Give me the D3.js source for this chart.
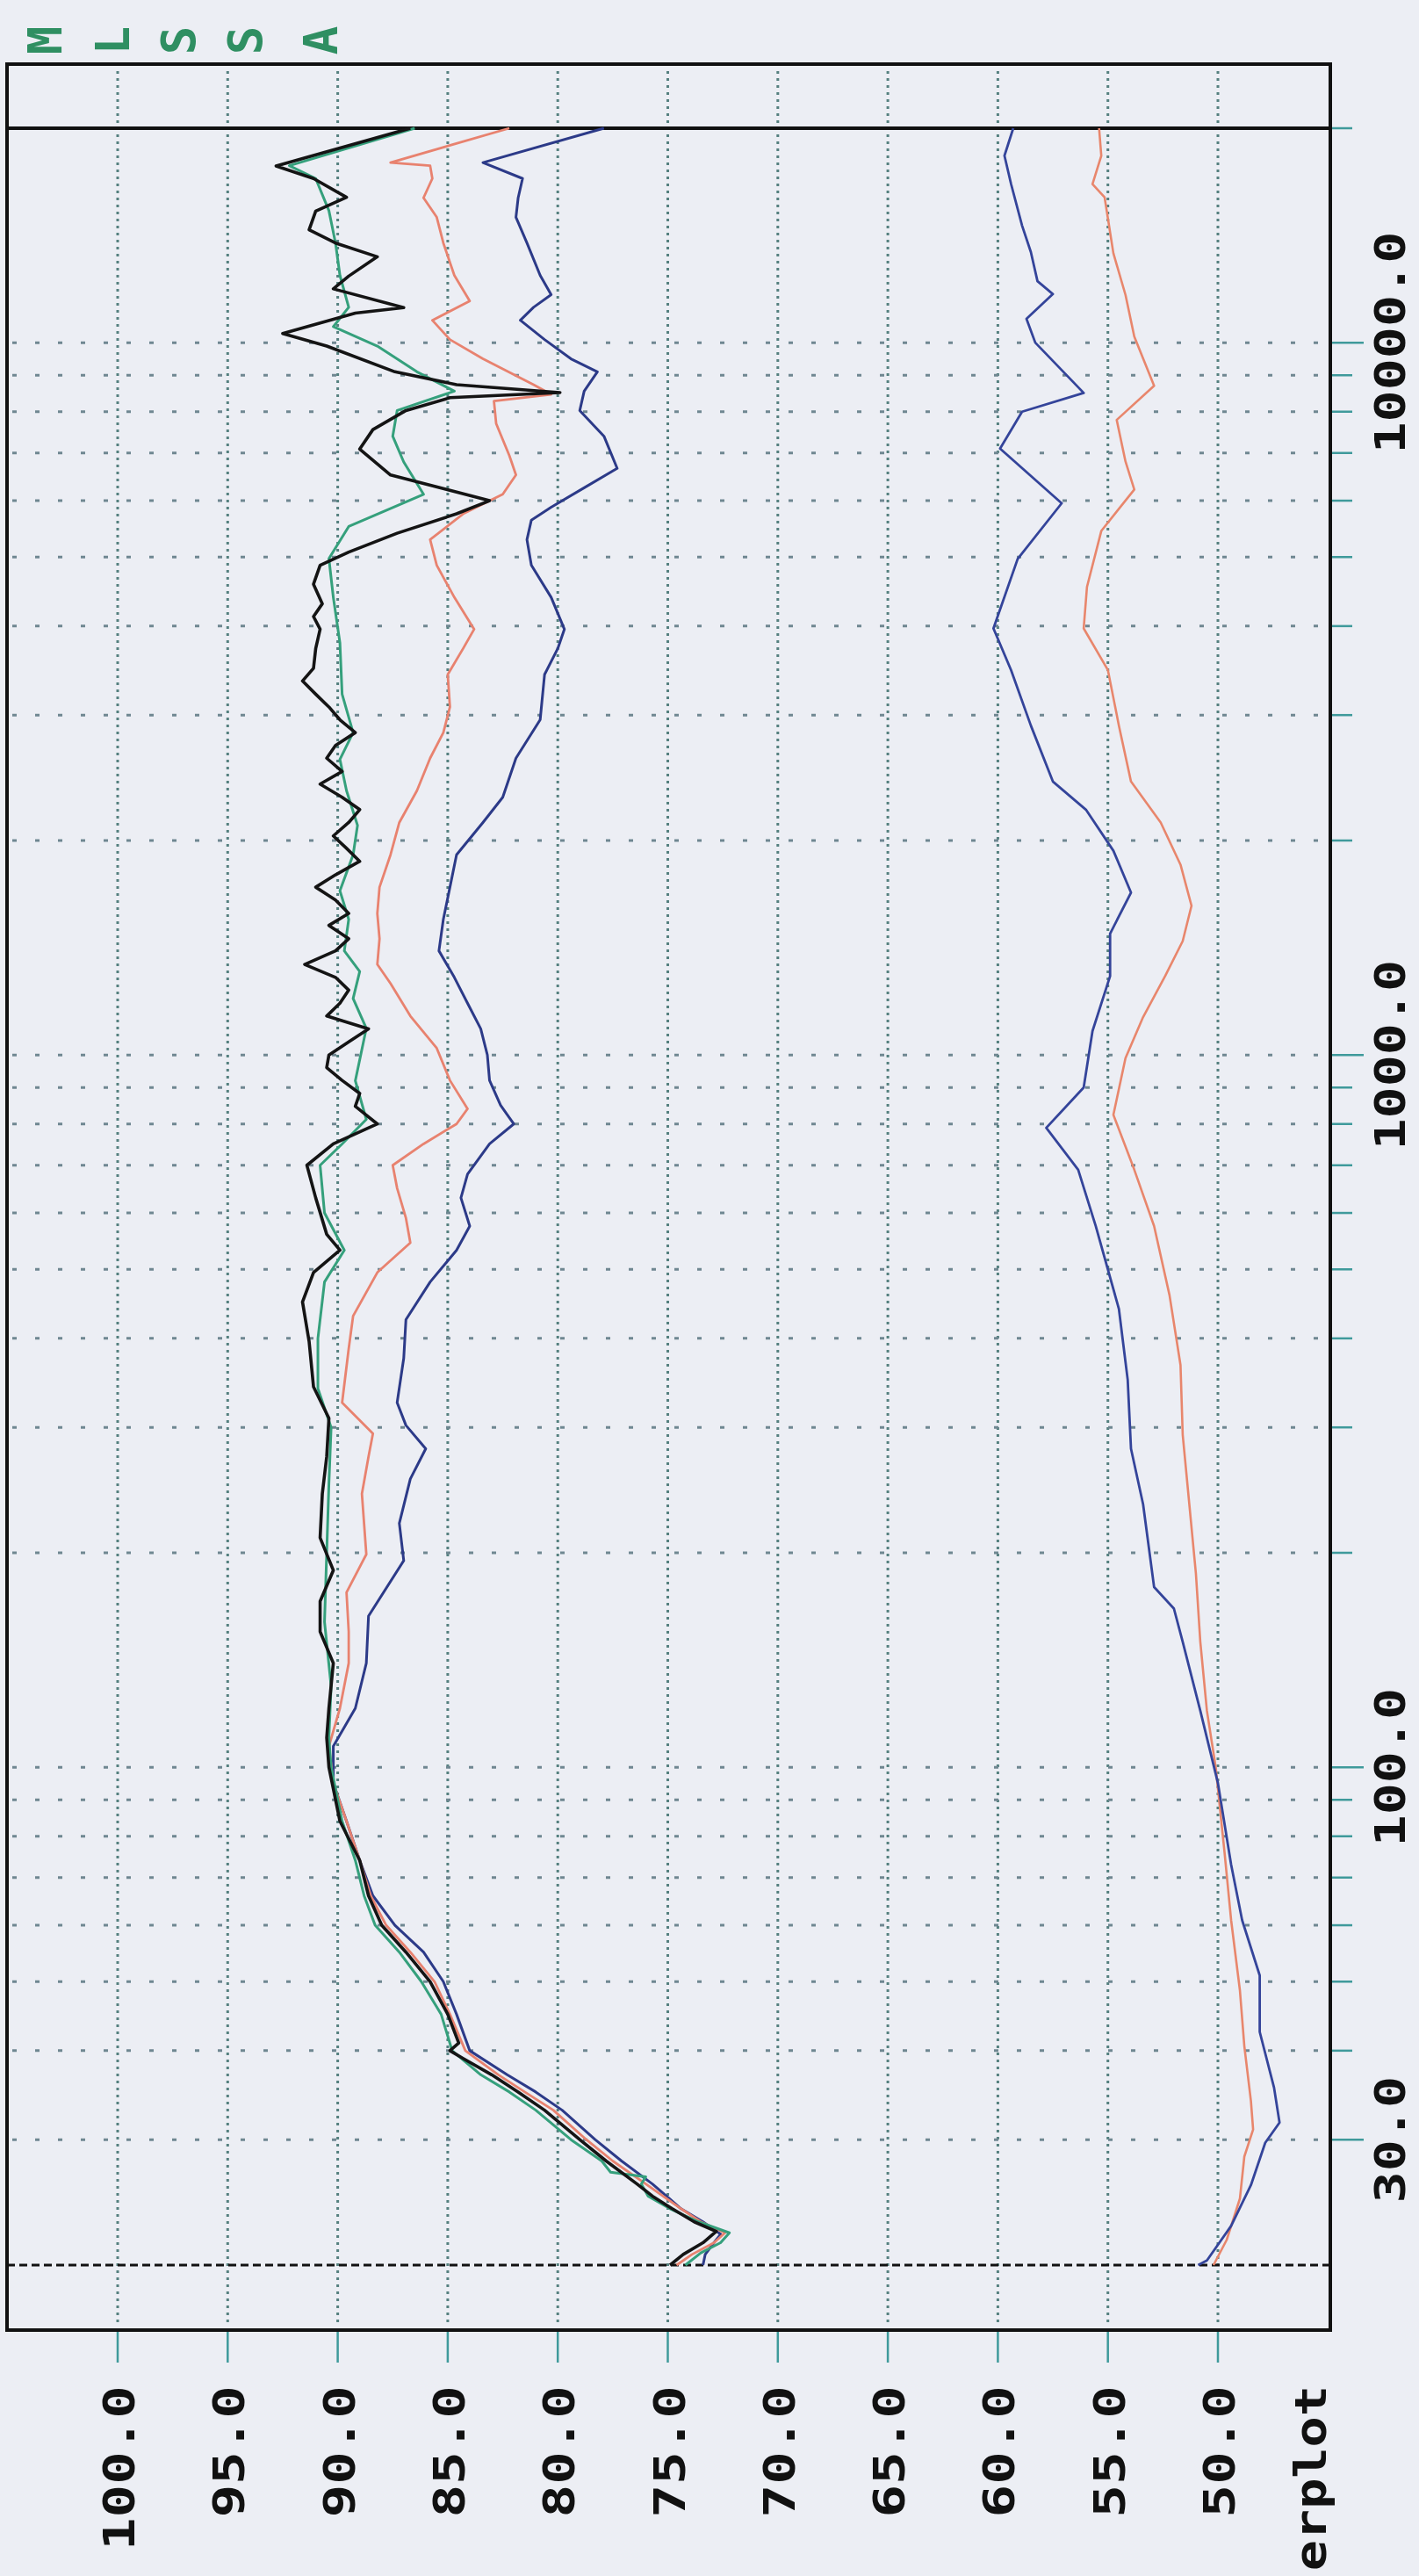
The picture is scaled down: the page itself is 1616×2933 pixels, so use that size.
<!DOCTYPE html>
<html><head><meta charset="utf-8">
<script src="https://cdn.jsdelivr.net/npm/d3@7"></script>
<style>html,body{margin:0;padding:0;background:#eceef4;}svg{display:block}</style>
</head><body>
<svg id="chart" width="1616" height="2933"></svg>
<script>
// ---------------- DATA ----------------
const dbTicks = [100, 95, 90, 85, 80, 75, 70, 65, 60, 55, 50];
const freqGrid = [30, 40, 50, 60, 70, 80, 90, 100, 200, 300, 400, 500, 600, 700, 800, 900,
                  1000, 2000, 3000, 4000, 5000, 6000, 7000, 8000, 9000, 10000, 20000];
const freqLabels = [30, 100, 1000, 10000];
const titleLetters = ["M", "L", "S", "S", "A"];
const overplotText = "erplot";

// [frequency Hz, level dB]
const upperBlack = [[20000,86.7],[17700,92.8],[17000,91.1],[16000,89.6],[15300,91.0],[14400,91.3],[13800,90.1],[13200,88.2],[12400,89.5],[11900,90.2],[11200,87.0],[11000,89.2],[10300,92.5],[9890,90.5],[9100,87.4],[8730,84.6],[8510,79.9],[8370,84.9],[8030,86.9],[7550,88.4],[7090,89.0],[6520,87.6],[6000,83.1],[5750,84.6],[5400,87.3],[5080,89.5],[4870,90.8],[4580,91.1],[4300,90.7],[4125,91.1],[3960,90.8],[3720,91.0],[3490,91.1],[3350,91.6],[3210,91.0],[3080,90.4],[2955,89.9],[2835,89.2],[2720,90.1],[2610,90.5],[2500,89.8],[2400,90.8],[2300,89.8],[2210,89.0],[2120,89.5],[2030,90.2],[1950,89.6],[1870,89.0],[1790,90.1],[1720,91.0],[1650,90.1],[1580,89.5],[1520,90.4],[1456,89.5],[1400,90.1],[1340,91.5],[1285,90.1],[1233,89.5],[1182,89.9],[1134,90.5],[1088,88.6],[1043,89.5],[1000,90.4],[960,90.5],[921,89.8],[883,89.0],[847,89.2],[800,88.2],[750,90.2],[700,91.4],[630,91.0],[560,90.5],[532,89.9],[495,91.1],[450,91.6],[396,91.3],[342,91.1],[309,90.4],[273,90.5],[242,90.7],[210,90.8],[189,90.2],[171,90.8],[155,90.8],[140,90.2],[121,90.4],[110,90.5],[100,90.4],[84,89.9],[74,89.0],[66,88.6],[60,88.0],[55,86.9],[50,85.8],[45,85.0],[41,84.5],[40,84.9],[39,84.3],[37,83.0],[35,81.8],[33,80.6],[30,79.0],[28,77.8],[26,76.4],[25,75.7],[24,74.8],[23,73.8],[22.3,72.8],[21.5,73.4],[20.7,74.3],[20,74.9]];

const upperGreen = [[20000,86.5],[17720,92.2],[17000,91.0],[15320,90.4],[13800,90.1],[12430,89.9],[11210,89.5],[10530,90.2],[9890,88.2],[9100,86.4],[8550,84.7],[8030,87.3],[7390,87.5],[6800,87.0],[6125,86.1],[5520,89.5],[4975,90.4],[4390,90.2],[3790,89.9],[3210,89.8],[2835,89.3],[2600,89.9],[2350,89.6],[2100,89.1],[1910,89.3],[1700,89.9],[1550,89.5],[1400,89.7],[1310,89.0],[1200,89.3],[1090,88.7],[920,89.2],[812,88.7],[750,89.8],[700,90.8],[600,90.6],[532,89.7],[480,90.6],[400,90.9],[340,90.9],[300,90.3],[250,90.4],[200,90.5],[160,90.6],[130,90.3],[110,90.4],[100,90.3],[84,89.8],[74,89.2],[66,88.8],[60,88.3],[55,87.2],[50,86.2],[45,85.3],[40,84.8],[37,83.5],[35,82.2],[33,81.0],[30,79.4],[28,78.0],[27,77.6],[26.6,76.0],[26,76.2],[25,75.9],[24,74.9],[23,73.6],[22.2,72.2],[21.5,72.6],[20.8,73.5],[20,74.2]];

const upperRed = [[20000,82.2],[17900,87.6],[17720,85.8],[17000,85.7],[15970,86.1],[15000,85.5],[13800,85.2],[12430,84.7],[11440,84.0],[10750,85.7],[10100,84.9],[9490,83.4],[8730,81.1],[8460,80.3],[8280,82.9],[7700,82.8],[6940,82.2],[6520,81.9],[6125,82.5],[5750,84.3],[5290,85.8],[4870,85.5],[4390,84.7],[3960,83.8],[3720,84.3],[3420,85.0],[3080,84.9],[2835,85.2],[2610,85.8],[2350,86.4],[2120,87.2],[1910,87.6],[1720,88.1],[1580,88.2],[1456,88.1],[1340,88.2],[1260,87.6],[1134,86.7],[1022,85.5],[921,84.9],[840,84.1],[800,84.6],[750,86.1],[700,87.5],[650,87.3],[590,86.9],[545,86.7],[495,88.2],[430,89.3],[387,89.5],[325,89.8],[294,88.4],[273,88.6],[242,88.9],[199,88.7],[176,89.6],[155,89.5],[140,89.5],[121,89.9],[107,90.4],[95,90.2],[84,89.6],[74,89.0],[66,88.5],[60,87.8],[55,86.7],[50,85.6],[45,84.9],[40,84.2],[37,82.7],[35,81.5],[33,80.2],[30,78.7],[28,77.5],[26,76.0],[24,74.4],[23,73.5],[22.2,72.4],[21.5,72.9],[20.7,73.9],[20,74.6]];

const upperBlue = [[20000,77.9],[17900,83.4],[17000,81.6],[15970,81.8],[15000,81.9],[13800,81.4],[12430,80.8],[11680,80.3],[11210,81.1],[10750,81.7],[10100,80.6],[9490,79.4],[9100,78.2],[8550,78.8],[8030,79.0],[7390,77.9],[6660,77.3],[6255,78.8],[5875,80.3],[5635,81.2],[5290,81.4],[4870,81.2],[4390,80.3],[3960,79.7],[3720,80.0],[3420,80.6],[2955,80.8],[2610,81.9],[2300,82.5],[2120,83.4],[1910,84.6],[1720,84.9],[1550,85.2],[1400,85.4],[1285,84.7],[1182,84.1],[1088,83.5],[1000,83.2],[921,83.1],[850,82.6],[800,82.0],[750,83.1],[680,84.1],[630,84.4],[575,84.0],[532,84.6],[480,85.8],[425,86.9],[375,87.0],[325,87.3],[302,86.9],[280,86.0],[254,86.7],[220,87.2],[195,87.0],[163,88.6],[140,88.7],[121,89.2],[107,90.2],[95,90.2],[84,89.6],[74,89.0],[66,88.4],[60,87.4],[55,86.1],[50,85.2],[45,84.6],[40,84.0],[37,82.3],[35,81.0],[33,79.8],[30,78.3],[28,77.1],[26,75.7],[24,74.4],[23,73.4],[22.1,72.6],[21.5,72.9],[20.7,73.3],[20,73.4]];

const lowerBlue = [[20000,59.3],[18300,59.7],[16700,59.4],[14600,58.9],[13400,58.5],[12200,58.2],[11700,57.5],[10800,58.7],[10000,58.3],[8500,56.1],[8000,58.9],[7100,59.9],[5950,57.1],[4970,59.1],[3970,60.2],[3470,59.4],[2900,58.5],[2420,57.5],[2210,56.0],[1935,54.75],[1690,53.95],[1480,54.9],[1290,54.9],[1080,55.7],[900,56.1],[790,57.8],[690,56.35],[575,55.55],[440,54.5],[350,54.1],[280,53.95],[234,53.4],[179,52.9],[167,52.0],[150,51.6],[120,50.8],[95,50.0],[73,49.4],[61,48.9],[51,48.1],[42.5,48.1],[35.5,47.45],[31.7,47.2],[29.7,47.85],[25.9,48.5],[22.7,49.4],[20.3,50.5],[20,50.9]];

const lowerRed = [[20000,55.4],[18300,55.3],[16700,55.7],[16000,55.15],[13350,54.75],[11670,54.2],[10200,53.8],[8700,52.9],[7790,54.6],[6810,54.2],[6220,53.8],[5440,55.3],[4540,55.95],[3970,56.1],[3470,55.0],[2900,54.5],[2420,53.95],[2120,52.6],[1850,51.7],[1620,51.2],[1445,51.6],[1290,52.4],[1130,53.4],[990,54.2],[824,54.75],[690,53.8],[575,52.9],[460,52.2],[367,51.7],[293,51.6],[234,51.3],[187,51.0],[150,50.8],[120,50.5],[100,50.1],[76,49.7],[61,49.4],[48.6,49.0],[40.6,48.8],[34,48.5],[31,48.4],[28.4,48.8],[24.8,49.0],[21.7,49.6],[20,50.2]];

const seriesList = [
  {data: lowerRed,   color: "#e8866c", width: 2.6},
  {data: lowerBlue,  color: "#34449a", width: 2.8},
  {data: upperBlue,  color: "#2c3a88", width: 3},
  {data: upperRed,   color: "#e8826f", width: 2.8},
  {data: upperGreen, color: "#35a07c", width: 3},
  {data: upperBlack, color: "#141414", width: 3.6}
];

// ---------------- LAYOUT ----------------
const frame = {left: 8, right: 1515, top: 73, bottom: 2653};
const x = d3.scaleLinear().domain([105, 45]).range([8.7, 1512.3]);
const y = d3.scaleLog().domain([20, 20000]).range([2579, 146]);
const letterX = [51, 128, 203, 279, 365];
const FONT = "'DejaVu Sans Mono','Liberation Mono',monospace";

const svg = d3.select("#chart");
svg.append("rect").attr("width", 1616).attr("height", 2933).attr("fill", "#eceef4");

// vertical dB gridlines (dotted)
svg.append("g").selectAll("line").data(dbTicks).join("line")
  .attr("x1", d => x(d)).attr("x2", d => x(d))
  .attr("y1", frame.top + 8).attr("y2", frame.bottom - 8)
  .attr("stroke", "#55807f").attr("stroke-width", 3).attr("stroke-dasharray", "3,5");

// horizontal frequency gridlines (sparse dots)
svg.append("g").selectAll("line").data(freqGrid.filter(f => f !== 20000)).join("line")
  .attr("x1", frame.left + 6).attr("x2", frame.right - 4)
  .attr("y1", d => y(d)).attr("y2", d => y(d))
  .attr("stroke", "#6f8791").attr("stroke-width", 3).attr("stroke-dasharray", "5,21");

// right side frequency ticks
svg.append("g").selectAll("line").data(freqGrid).join("line")
  .attr("x1", frame.right + 2).attr("x2", d => freqLabels.includes(d) ? 1553 : 1540)
  .attr("y1", d => y(d)).attr("y2", d => y(d))
  .attr("stroke", "#3f9a9b").attr("stroke-width", 2.5);

// bottom dB ticks
svg.append("g").selectAll("line").data(dbTicks).join("line")
  .attr("x1", d => x(d)).attr("x2", d => x(d))
  .attr("y1", frame.bottom + 2).attr("y2", 2690)
  .attr("stroke", "#3f9a9b").attr("stroke-width", 2.5);

// 20 kHz solid line and 20 Hz dashed line
svg.append("line").attr("x1", frame.left).attr("x2", frame.right)
  .attr("y1", y(20000)).attr("y2", y(20000))
  .attr("stroke", "#111").attr("stroke-width", 4);
svg.append("line").attr("x1", frame.left).attr("x2", frame.right)
  .attr("y1", y(20)).attr("y2", y(20))
  .attr("stroke", "#111").attr("stroke-width", 3).attr("stroke-dasharray", "9,5");

// curves
const line = d3.line().x(d => x(d[1])).y(d => y(d[0]));
svg.append("g").selectAll("path").data(seriesList).join("path")
  .attr("d", d => line(d.data))
  .attr("fill", "none")
  .attr("stroke", d => d.color)
  .attr("stroke-width", d => d.width)
  .attr("stroke-linejoin", "round");

// frame
svg.append("rect").attr("x", frame.left).attr("y", frame.top)
  .attr("width", frame.right - frame.left).attr("height", frame.bottom - frame.top)
  .attr("fill", "none").attr("stroke", "#111").attr("stroke-width", 4);

// dB labels (rotated)
svg.append("g").selectAll("text").data(dbTicks).join("text")
  .attr("transform", d => `translate(${x(d) + 19},2716) rotate(-90) scale(1.25,1)`)
  .attr("text-anchor", "end")
  .attr("font-family", FONT).attr("font-weight", "bold").attr("font-size", 50)
  .attr("fill", "#111")
  .text(d => d.toFixed(1));

// "erplot" label (the visible part of the overplot caption)
svg.append("text")
  .attr("transform", `translate(1510,2716) rotate(-90) scale(1.17,1)`)
  .attr("text-anchor", "end")
  .attr("font-family", FONT).attr("font-weight", "bold").attr("font-size", 50)
  .attr("fill", "#111")
  .text(overplotText);

// frequency labels (rotated)
svg.append("g").selectAll("text").data(freqLabels).join("text")
  .attr("transform", d => `translate(1600,${y(d)}) rotate(-90) scale(1.25,1)`)
  .attr("text-anchor", "middle")
  .attr("font-family", FONT).attr("font-weight", "bold").attr("font-size", 48)
  .attr("fill", "#111")
  .text(d => d.toFixed(1));

// MLSSA title letters
svg.append("g").selectAll("text").data(titleLetters).join("text")
  .attr("transform", (d, i) => `translate(${letterX[i]},46) rotate(-90)`)
  .attr("text-anchor", "middle").attr("dominant-baseline", "central")
  .attr("font-family", FONT).attr("font-weight", "bold").attr("font-size", 54)
  .attr("fill", "#2f8f62")
  .text(d => d);
</script>
</body></html>
